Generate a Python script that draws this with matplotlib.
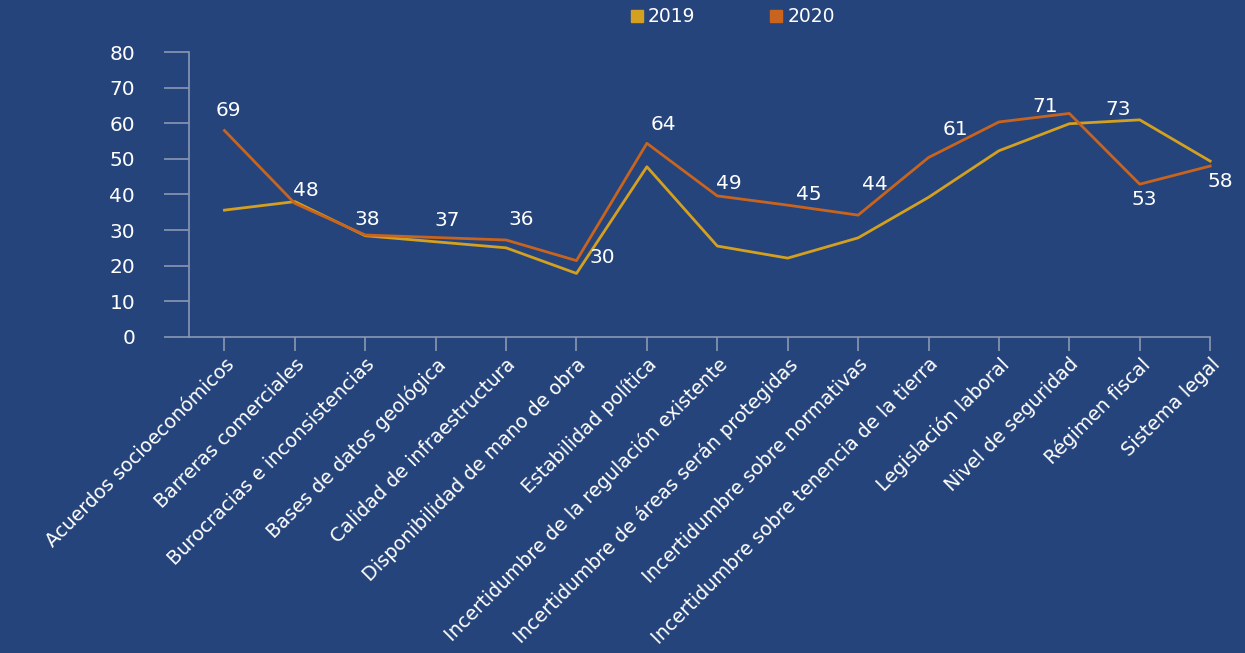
import matplotlib
matplotlib.use("Agg")
import matplotlib.pyplot as plt
from matplotlib.lines import Line2D
import numpy as np

categories = [
    "Acuerdos socioeconómicos",
    "Barreras comerciales",
    "Burocracias e inconsistencias",
    "Bases de datos geológica",
    "Calidad de infraestructura",
    "Disponibilidad de mano de obra",
    "Estabilidad política",
    "Incertidumbre de la regulación existente",
    "Incertidumbre de áreas serán protegidas",
    "Incertidumbre sobre normativas",
    "Incertidumbre sobre tenencia de la tierra",
    "Legislación laboral",
    "Nivel de seguridad",
    "Régimen fiscal",
    "Sistema legal",
]
values_2019 = [35.6, 38.0, 28.4, 26.7, 25.0, 17.8, 47.8, 25.5, 22.1, 27.8,
               39.2, 52.3, 59.9, 61.0, 49.4]
values_2020 = [58.0, 37.5, 28.6, 27.9, 27.2, 21.4, 54.4, 39.6, 37.0, 34.2,
               50.4, 60.4, 62.8, 42.9, 48.0]
# etiquetas tal como aparecen en el gráfico original
label_values = [69, 48, 38, 37, 36, 30, 64, 49, 45, 44, 61, 71, 73, 53, 58]

# colocación de las etiquetas (desplazamiento en x, altura en y)
label_dx = [0.06, 0.15, 0.03, 0.16, 0.22, 0.37, 0.24, 0.16, 0.30, 0.24,
            0.38, 0.66, 0.69, 0.06, 0.15]
label_y = [63.7, 41.1, 33.0, 32.8, 33.0, 22.3, 59.6, 43.2, 40.1, 42.9,
           58.4, 64.7, 64.0, 38.5, 43.6]

BG = "#25447C"
C2019 = "#D4A020"
C2020 = "#C8641E"
AXIS = "#8B97B3"
TXT = "#FFFFFF"

plt.rcParams["font.family"] = ["DejaVu Sans"]

fig = plt.figure(figsize=(12.45, 6.53), dpi=100, facecolor=BG)
ax = fig.add_axes([0.152, 0.4844, 0.82, 0.4355], facecolor=BG)

x = np.arange(len(categories))
ax.plot(x, values_2019, color=C2019, linewidth=2.0, clip_on=False)
ax.plot(x, values_2020, color=C2020, linewidth=2.0, clip_on=False)

for i, v in enumerate(label_values):
    ax.text(i + label_dx[i], label_y[i], str(v), color=TXT, fontsize=14.5,
            ha="center", va="center")

ax.set_xlim(-0.5, len(categories) - 1)
ax.set_ylim(0, 80)
ax.set_yticks(range(0, 81, 10))
ax.set_xticks(x)
ax.set_xticklabels(categories, rotation=45, ha="right", va="top",
                   rotation_mode="anchor", color=TXT, fontsize=13.9)
ax.tick_params(axis="y", colors=AXIS, labelcolor=TXT, labelsize=14.5,
               length=18, width=1.2, pad=21)
ax.tick_params(axis="x", colors=AXIS, labelcolor=TXT, length=10,
               width=1.2, pad=3)

for side in ("top", "right"):
    ax.spines[side].set_visible(False)
for side in ("left", "bottom"):
    ax.spines[side].set_color(AXIS)
    ax.spines[side].set_linewidth(1.2)

handles = [
    Line2D([], [], marker="s", linestyle="none", markersize=8,
           color=C2019, label="2019"),
    Line2D([], [], marker="s", linestyle="none", markersize=8,
           color=C2020, label="2020"),
]
fig.legend(handles=handles, loc="center", bbox_to_anchor=(0.588, 0.974),
           ncol=2, frameon=False, fontsize=13.5, labelcolor=TXT,
           handletextpad=0.2, columnspacing=3.9, handlelength=0.8)

fig.savefig("out.png", dpi=100, facecolor=BG)
